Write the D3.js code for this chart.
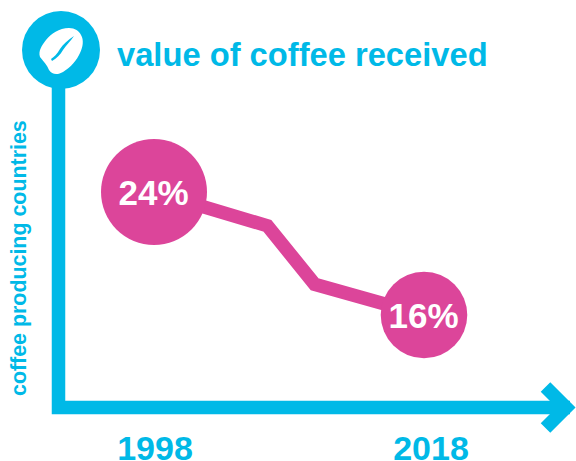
<!DOCTYPE html>
<html>
<head>
<meta charset="utf-8">
<script src="https://cdn.jsdelivr.net/npm/d3@7"></script>
<style>
html,body{margin:0;padding:0;background:#fff}
svg{display:block}
text{font-family:"Liberation Sans",Arial,sans-serif;font-weight:700}
</style>
</head>
<body>
<svg id="chart" width="576" height="461"></svg>
<script>
// Share of the value of coffee received by producing countries
const years = [1998, 2006.4, 2009.9, 2018];
const shares = [24, 21.8, 18, 16];
const labelledYears = [1998, 2018];
const labelledShares = [24, 16];
const title = "value of coffee received";
const yTitle = "coffee producing countries";

const cyan = "#00b9e7";
const pink = "#dc459a";

const svg = d3.select("#chart");
const x = d3.scaleLinear().domain([1998, 2018]).range([154, 424]);
const y = d3.scaleLinear().domain([16, 24]).range([315, 192]);
const r = d3.scaleSqrt().domain([0, 24]).range([0, 53]);

// Axes: an L-shaped stroke ending in an open arrow head
svg.append("path")
  .attr("d", "M58.5,60V407.5H570")
  .attr("fill", "none").attr("stroke", cyan).attr("stroke-width", 13.5);
svg.append("path")
  .attr("d", "M545.5,387L566,407.5L545.5,428")
  .attr("fill", "none").attr("stroke", cyan).attr("stroke-width", 13.5)
  .attr("stroke-linecap", "butt").attr("stroke-linejoin", "miter");

// Coffee bean badge on top of the vertical axis
const badge = svg.append("g");
badge.append("circle").attr("cx", 61).attr("cy", 50).attr("r", 39).attr("fill", cyan);
badge.append("path")
  .attr("fill", "#fff")
  .attr("d", "M40,57C38,51 42,45 46,40C51,34 59,28 69,28C75,28 79,31 81,35C84,40 83,47 80,53C77,60 71,67 63,72C58,75 52,75 49,70C47,65 44,62 40,57Z");
badge.append("path")
  .attr("fill", cyan)
  .attr("d", "M74,36C68,40 63,44 60,49C57,54 54,57 51,59L52,61C57,58 60,55 63,50C66,45 71,41 74,36Z");

// Trend line and value bubbles
const points = years.map((yr, i) => ({yr, v: shares[i]}));
svg.append("path")
  .datum(points)
  .attr("fill", "none").attr("stroke", pink).attr("stroke-width", 13.5)
  .attr("stroke-linejoin", "miter")
  .attr("d", d3.line().x(d => x(d.yr)).y(d => y(d.v)));

const bubbles = svg.selectAll("g.bubble")
  .data(labelledYears.map((yr, i) => ({yr, v: labelledShares[i]})))
  .join("g").attr("class", "bubble")
  .attr("transform", d => `translate(${x(d.yr)},${y(d.v)})`);
bubbles.append("circle").attr("r", d => r(d.v)).attr("fill", pink);
bubbles.append("text")
  .attr("text-anchor", "middle").attr("x", -0.5).attr("y", 12.5)
  .attr("fill", "#fff").attr("font-size", 35)
  .text(d => d.v + "%");

// Year labels along the horizontal axis
const axis = d3.axisBottom(x).tickValues(labelledYears).tickFormat(d3.format("d")).tickSize(0);
const axisG = svg.append("g").attr("transform", "translate(0,433)").call(axis);
axisG.select(".domain").remove();
axisG.selectAll("text")
  .attr("y", 0).attr("dy", "27")
  .attr("dx", d => d === 2018 ? 6.5 : 0.5)
  .attr("fill", cyan).attr("font-size", 34)
  .style("font-family", '"Liberation Sans",Arial,sans-serif').style("font-weight", 700);

// Titles
svg.append("text").attr("x", 117).attr("y", 66)
  .attr("fill", cyan).attr("font-size", 32.7).text(title);
svg.append("text")
  .attr("transform", "translate(25.5,396) rotate(-90)")
  .attr("fill", cyan).attr("font-size", 21.4).text(yTitle);
</script>
</body>
</html>
